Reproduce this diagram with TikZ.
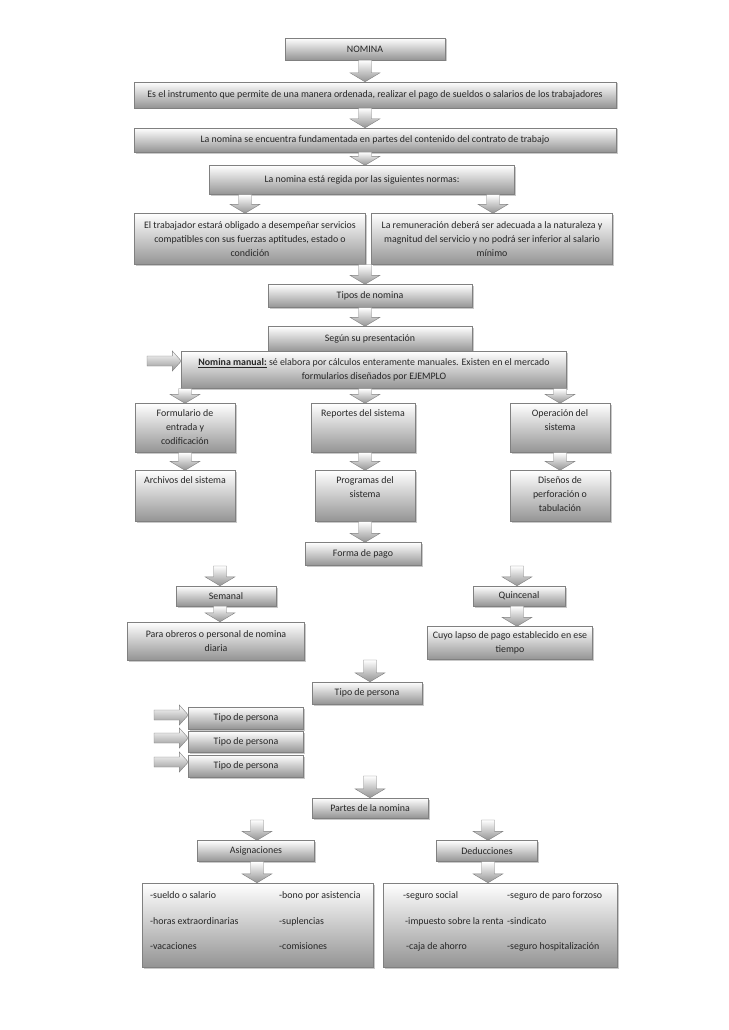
\documentclass[tikz,border=0pt]{standalone}
\usepackage{fontspec}
\setmainfont{Carlito}
\usetikzlibrary{calc,shadows}
\tikzset{
  fnt/.style={font=\fontsize{9.9}{14}\selectfont, text=black!85},
  box/.style={draw=black!50, top color=white, bottom color=black!42, inner sep=1pt,
    align=center, fnt,
    drop shadow={shadow xshift=1.5pt, shadow yshift=-1.5pt, opacity=0.35, fill=black!60}},
  txt/.style={inner sep=0pt, align=center, fnt},
  ltxt/.style={inner sep=0pt, anchor=west, text height=7pt, text depth=2pt, fnt},
  barrow/.style={draw=black!50, top color=white, bottom color=black!42}
}
\newcommand\darr[2]{\path[barrow] let \p1=(#1), \p2=(#2) in
  (\x1-6.5pt,\y1) -- (\x1-6.5pt,\y2+9pt) -- (\x1-15pt,\y2+9pt) -- (\x1,\y2)
  -- (\x1+15pt,\y2+9pt) -- (\x1+6.5pt,\y2+9pt) -- (\x1+6.5pt,\y1) -- cycle;}
\newcommand\rarr[2]{\path[barrow] let \p1=(#1), \p2=(#2) in
  (\x1,\y1+5pt) -- (\x2-9pt,\y1+5pt) -- (\x2-9pt,\y1+10pt) -- (\x2,\y1)
  -- (\x2-9pt,\y1-10pt) -- (\x2-9pt,\y1-5pt) -- (\x1,\y1-5pt) -- cycle;}
\begin{document}
\begin{tikzpicture}[x=1pt,y=-1pt]
\useasboundingbox[fill=white] (0,0) rectangle (728,1030);
% boxes
\node[box, minimum width=160, minimum height=22] (nomina) at (365,49) {NOMINA};
\node[box, minimum width=482, minimum height=26] (es) at (375,95) {Es el instrumento que permite de una manera ordenada, realizar el pago de sueldos o salarios de los trabajadores};
\node[box, minimum width=482, minimum height=24] (contrato) at (375,140) {La nomina se encuentra fundamentada en partes del contenido del contrato de trabajo};
\node[box, minimum width=305, minimum height=29] (regida) at (362,180) {La nomina está regida por las siguientes normas:};
\node[box, minimum width=231, minimum height=51] (left) at (250,239) {El trabajador estará obligado a desempeñar servicios\\compatibles con sus fuerzas aptitudes, estado o\\condición};
\node[box, minimum width=241, minimum height=51] (right) at (492,239) {La remuneración deberá ser adecuada a la naturaleza y\\magnitud del servicio y no podrá ser inferior al salario\\mínimo};
\node[box, minimum width=204, minimum height=23] (tipos) at (370,296) {Tipos de nomina};
\node[box, minimum width=204, minimum height=25] (segun) at (370,339) {Según su presentación};
\node[box, minimum width=385, minimum height=37] (manual) at (374,370) {\underline{\textbf{Nomina manual:}} sé elabora por cálculos enteramente manuales. Existen en el mercado\\formularios diseñados por EJEMPLO};
\node[box, minimum width=100, minimum height=49] (form) at (185,428) {};
\node[box, minimum width=104, minimum height=49] (rep) at (363,428) {};
\node[box, minimum width=100, minimum height=49] (oper) at (560,428) {};
\node[box, minimum width=100, minimum height=51] (arch) at (185,496) {};
\node[box, minimum width=100, minimum height=51] (prog) at (365,496) {};
\node[box, minimum width=100, minimum height=51] (dis) at (560,496) {};
\node[txt, anchor=north] (formt) at ([yshift=-6pt]form.north) {Formulario de\\entrada y\\codificación};
\node[txt, anchor=north] (rept) at ([yshift=-6pt]rep.north) {Reportes del sistema};
\node[txt, anchor=north] (opert) at ([yshift=-6pt]oper.north) {Operación del\\sistema};
\node[txt, anchor=north] (archt) at ([yshift=-6pt]arch.north) {Archivos del sistema};
\node[txt, anchor=north] (progt) at ([yshift=-6pt]prog.north) {Programas del\\sistema};
\node[txt, anchor=north] (dist) at ([yshift=-6pt]dis.north) {Diseños de\\perforación o\\tabulación};
\node[box, minimum width=116, minimum height=23] (forma) at (363,554) {Forma de pago};
\node[box, minimum width=100, minimum height=20] (semanal) at (226,596) {Semanal};
\node[box, minimum width=92, minimum height=20] (quin) at (519,596) {Quincenal};
\node[box, minimum width=177, minimum height=38] (obreros) at (216,641) {Para obreros o personal de nomina\\diaria};
\node[box, minimum width=165, minimum height=33] (cuyo) at (510,643) {Cuyo lapso de pago establecido en ese\\tiempo};
\node[box, minimum width=110, minimum height=22] (tipo) at (367,693) {Tipo de persona};
\node[box, minimum width=115, minimum height=22] (tp1) at (246,718) {Tipo de persona};
\node[box, minimum width=115, minimum height=21] (tp2) at (246,742) {Tipo de persona};
\node[box, minimum width=115, minimum height=22] (tp3) at (246,766) {Tipo de persona};
\node[box, minimum width=116, minimum height=20] (partes) at (370,808) {Partes de la nomina};
\node[box, minimum width=117, minimum height=21] (asig) at (256,851) {Asignaciones};
\node[box, minimum width=101, minimum height=21] (ded) at (487,851) {Deducciones};
\node[box, minimum width=231, minimum height=84] (asigl) at (258,925) {};
\node[box, minimum width=234, minimum height=84] (dedl) at (500,925) {};
% list texts
\node[ltxt] (a1) at (150,896) {-sueldo o salario};
\node[ltxt] (a2) at (150,922) {-horas extraordinarias};
\node[ltxt] (a3) at (150,947) {-vacaciones};
\node[ltxt] (a4) at (279,896) {-bono por asistencia};
\node[ltxt] (a5) at (279,922) {-suplencias};
\node[ltxt] (a6) at (279,947) {-comisiones};
\node[ltxt] (d1) at (403,896) {-seguro social};
\node[ltxt] (d2) at (405,922) {-impuesto sobre la renta};
\node[ltxt] (d3) at (406,947) {-caja de ahorro};
\node[ltxt] (d4) at (507,896) {-seguro de paro forzoso};
\node[ltxt] (d5) at (507,922) {-sindicato};
\node[ltxt] (d6) at (507,947) {-seguro hospitalización};
% free arrow starts
\coordinate (s1) at (220,566);
\coordinate (s2) at (517,566);
\coordinate (s3) at (370,660);
\coordinate (s4) at (370,776);
\coordinate (s5) at (257,820);
\coordinate (s6) at (488,820);
\coordinate (m0) at (147,361);
\coordinate (r1) at (154,715);
\coordinate (r2) at (154,738);
\coordinate (r3) at (154,762);
% down arrows
\darr{nomina.south -| 365,0}{es.north -| 365,0}
\darr{es.south -| 365,0}{contrato.north -| 365,0}
\darr{contrato.south -| 365,0}{regida.north -| 365,0}
\darr{regida.south -| 245,0}{left.north -| 245,0}
\darr{regida.south -| 493,0}{right.north -| 493,0}
\darr{left.south -| 365,0}{tipos.north -| 365,0}
\darr{tipos.south -| 365,0}{segun.north -| 365,0}
\darr{manual.south -| 185,0}{form.north -| 185,0}
\darr{manual.south -| 365,0}{rep.north -| 365,0}
\darr{manual.south -| 560,0}{oper.north -| 560,0}
\darr{form.south -| 185,0}{arch.north -| 185,0}
\darr{rep.south -| 365,0}{prog.north -| 365,0}
\darr{oper.south -| 560,0}{dis.north -| 560,0}
\darr{prog.south -| 365,0}{forma.north -| 365,0}
\darr{s1}{semanal.north -| s1}
\darr{s2}{quin.north -| s2}
\darr{semanal.south -| 220,0}{obreros.north -| 220,0}
\darr{quin.south -| 517,0}{cuyo.north -| 517,0}
\darr{s3}{tipo.north -| s3}
\darr{s4}{partes.north -| s4}
\darr{s5}{asig.north -| s5}
\darr{s6}{ded.north -| s6}
\darr{asig.south -| 257,0}{asigl.north -| 257,0}
\darr{ded.south -| 488,0}{dedl.north -| 488,0}
% right arrows
\rarr{m0}{manual.west}
\rarr{r1}{tp1.west}
\rarr{r2}{tp2.west}
\rarr{r3}{tp3.west}
\end{tikzpicture}
\end{document}
